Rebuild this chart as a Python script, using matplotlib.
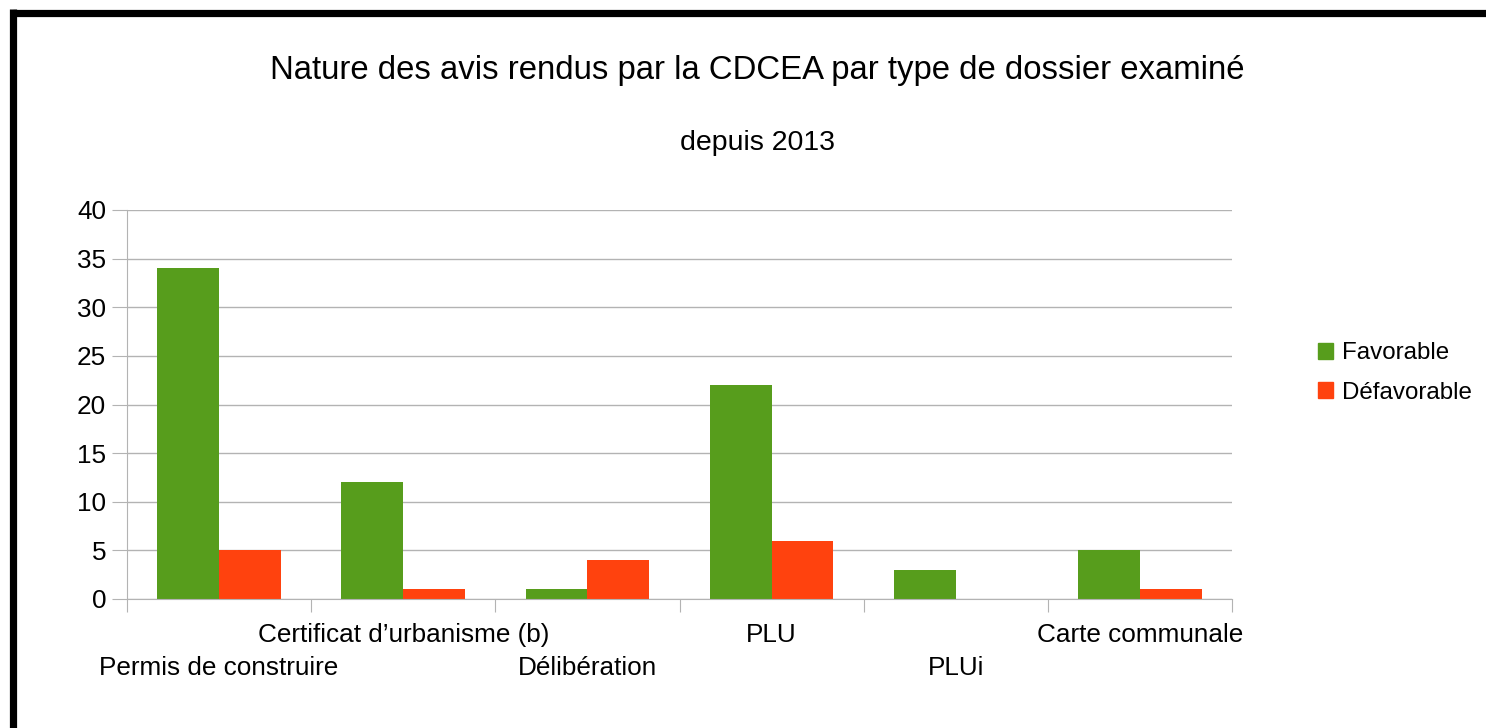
import numpy as np
import matplotlib.pyplot as plt
from matplotlib.patches import Patch
from matplotlib.lines import Line2D

plt.rcParams['font.family'] = ['Liberation Sans', 'DejaVu Sans']

# donnees
categories = ["Permis de construire", "Certificat d\u2019urbanisme (b)", "Délibération",
              "PLU", "PLUi", "Carte communale"]
favorable = [34, 12, 1, 22, 3, 5]
defavorable = [5, 1, 4, 6, 0, 1]
yticks = [0, 5, 10, 15, 20, 25, 30, 35, 40]

vert = "#579d1c"
rouge = "#ff420e"

W, H = 1486, 728
fig = plt.figure(figsize=(W / 100, H / 100), dpi=100)
ax = fig.add_axes([127 / W, 1 - 599 / H, (1232 - 127) / W, (599 - 210) / H])

x = np.arange(len(categories))
bw = 0.336
ax.bar(x - bw / 2, favorable, bw, color=vert, label="Favorable")
ax.bar(x + bw / 2, defavorable, bw, color=rouge, label="Défavorable")

ax.set_xlim(-0.5, len(categories) - 0.5)
ax.set_ylim(0, 40)
ax.set_yticks(yticks)
ax.set_yticklabels([str(v) for v in yticks], fontsize=18.8)
ax.yaxis.grid(True, color="#b3b3b3", lw=1)
ax.set_axisbelow(True)
for s in ["top", "right"]:
    ax.spines[s].set_visible(False)
ax.spines["left"].set_color("#b3b3b3")
ax.spines["bottom"].set_color("#b3b3b3")
ax.tick_params(axis="y", length=11, color="#b3b3b3", pad=4)

# ticks x aux frontieres des categories
ax.set_xticks(np.arange(len(categories) + 1) - 0.5)
ax.set_xticklabels([])
ax.tick_params(axis="x", length=9, color="#b3b3b3")

# etiquettes en quinconce
for i, c in enumerate(categories):
    yy = -3.7 if i % 2 else -7.1
    ax.text(i, yy, c, ha="center", va="center", fontsize=18.8, clip_on=False)

fig.text(757 / W, 1 - 70 / H, "Nature des avis rendus par la CDCEA par type de dossier examiné",
         ha="center", va="center", fontsize=23.7)
fig.text(757 / W, 1 - 143 / H, "depuis 2013", ha="center", va="center", fontsize=20.5)

handles = [Patch(color=vert, label="Favorable"), Patch(color=rouge, label="Défavorable")]
fig.legend(handles=handles, loc="center left", bbox_to_anchor=(1296 / W, 1 - 373 / H),
           frameon=False, fontsize=17.4, handlelength=0.62, handleheight=0.62,
           handletextpad=0.4, labelspacing=0.72)

# cadre noir haut et gauche
fig.add_artist(Line2D([12.5 / W, 1], [1 - 12.5 / H, 1 - 12.5 / H], color="black", lw=5.2,
                      transform=fig.transFigure, solid_capstyle="butt"))
fig.add_artist(Line2D([12.5 / W, 12.5 / W], [0, 1 - 9 / H], color="black", lw=5.2,
                      transform=fig.transFigure, solid_capstyle="butt"))

fig.savefig("out.png", dpi=100)
